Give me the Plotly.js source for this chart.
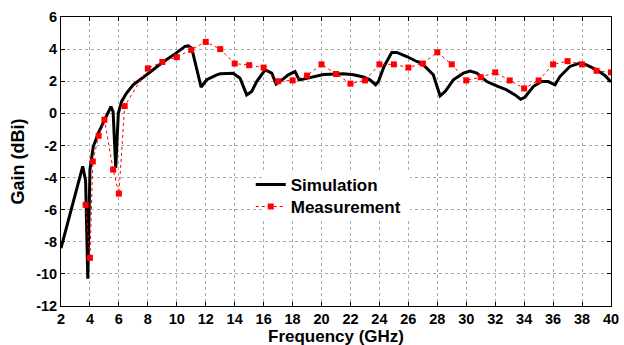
<!DOCTYPE html>
<html>
<head>
<meta charset="utf-8">
<script src="https://cdn.plot.ly/plotly-3.0.1.min.js"></script>
<style>html,body{margin:0;padding:0;background:#fff;}#chart{width:624px;height:345px;}</style>
</head>
<body>
<div id="chart"></div>
<script>
// Simulation curve (frequency GHz, gain dBi)
const simFreq = [2, 3.5, 3.7, 3.85, 4.0, 4.23, 4.57, 4.92, 5.15, 5.45, 5.6, 5.78, 5.96, 6.19, 6.53, 6.99, 7.92, 8.96, 9.95, 10.57, 10.8, 11.03, 11.68, 12.07, 12.76, 13.0, 13.9, 14.37, 14.83, 15.18, 15.52, 16.1, 16.56, 16.86, 17.13, 17.7, 18.17, 18.45, 18.75, 19.44, 20.13, 21.51, 22.2, 22.89, 23.35, 23.74, 23.93, 24.32, 24.85, 25.2, 25.89, 26.58, 26.92, 27.72, 28.19, 28.54, 29.11, 29.8, 30.27, 30.73, 31.42, 32.1, 32.79, 33.37, 33.76, 34.05, 34.63, 35.2, 35.66, 36.13, 36.47, 37.16, 37.85, 38.31, 39.0, 39.6, 40];
const simGain = [-8.4, -3.3, -4.2, -10.3, -3.5, -2.07, -1.24, -0.61, -0.1, 0.42, 0.1, -3.4, 0.0, 0.74, 1.26, 1.78, 2.4, 3.13, 3.75, 4.17, 4.2, 4.06, 1.63, 2.09, 2.4, 2.46, 2.5, 2.19, 1.15, 1.36, 1.98, 2.71, 2.5, 1.82, 1.98, 2.4, 2.6, 2.09, 2.13, 2.29, 2.42, 2.46, 2.4, 2.26, 2.09, 1.78, 1.98, 2.92, 3.79, 3.79, 3.54, 3.23, 3.13, 2.4, 1.09, 1.36, 2.09, 2.5, 2.63, 2.5, 1.98, 1.71, 1.46, 1.15, 0.88, 1.0, 1.67, 1.98, 1.98, 1.78, 2.29, 2.92, 3.13, 3.02, 2.71, 2.34, 1.95];
// Measurement points
const measFreq = [3.7, 4.0, 4.2, 4.6, 5.0, 5.6, 6.0, 6.4, 8, 9, 10, 11, 12, 13, 14, 15, 16, 17, 18, 19, 20, 21, 22, 23, 24, 25, 26, 27, 28, 29, 30, 31, 32, 33, 34, 35, 36, 37, 38, 39, 40];
const measGain = [-5.7, -9.0, -3.0, -1.4, -0.4, -3.5, -5.0, 0.45, 2.8, 3.2, 3.5, 3.95, 4.45, 4.0, 3.1, 3.0, 2.85, 2.0, 2.05, 2.35, 3.05, 2.45, 1.85, 2.05, 3.05, 3.05, 2.85, 3.1, 3.8, 3.05, 2.05, 2.25, 2.55, 2.05, 1.55, 2.05, 3.05, 3.25, 3.05, 2.65, 2.55];
const xTicks = [2,4,6,8,10,12,14,16,18,20,22,24,26,28,30,32,34,36,38,40];
const yTicks = [-12,-10,-8,-6,-4,-2,0,2,4,6];
const xTitle = 'Frequency (GHz)';
const yTitle = 'Gain (dBi)';

const fam = '"Liberation Sans", Arial, sans-serif';
const data = [
  {x: simFreq, y: simGain, type: 'scatter', mode: 'lines', name: 'Simulation', legend: 'legend',
   line: {color: '#000', width: 3}},
  {x: measFreq, y: measGain, type: 'scatter', mode: 'lines+markers', name: 'Measurement', legend: 'legend2',
   line: {color: '#ff0000', width: 1, dash: 'dot'},
   marker: {color: '#ff0000', symbol: 'square', size: 6}}
];
const axisCommon = {
  showline: true, linecolor: '#000', linewidth: 1, mirror: 'ticks',
  ticks: 'inside', ticklen: 4, tickcolor: '#000',
  showgrid: true, gridcolor: '#aaa', griddash: 'dot', gridwidth: 1,
  zeroline: false, tickfont: {family: fam, size: 14.5, color: '#000', weight: 'bold'}
};
const legendCommon = {xanchor: 'left', yanchor: 'top', bgcolor: 'rgba(0,0,0,0)', borderwidth: 0,
  itemwidth: 30, font: {family: fam, size: 17, color: '#000', weight: 'bold'}};
const layout = {
  width: 624, height: 345,
  margin: {l: 61, r: 13, t: 17, b: 39},
  paper_bgcolor: '#fff', plot_bgcolor: '#fff',
  font: {family: fam, size: 14, color: '#000'},
  showlegend: true,
  xaxis: Object.assign({}, axisCommon, {range: [2, 40], tickvals: xTicks, ticktext: xTicks.map(String)}),
  yaxis: Object.assign({}, axisCommon, {range: [-12, 6], tickvals: yTicks, ticktext: yTicks.map(String),
    title: {text: '<b>' + yTitle + '</b>', font: {family: fam, size: 18, color: '#000'}, standoff: 6}}),
  annotations: [{text: '<b>' + xTitle + '</b>', xref: 'paper', yref: 'paper', x: 0.5, y: -0.107,
    xanchor: 'center', yanchor: 'middle', showarrow: false, font: {family: fam, size: 17, color: '#000'}}],
  legend: Object.assign({}, legendCommon, {x: 0.345, y: 0.481}),
  legend2: Object.assign({}, legendCommon, {x: 0.345, y: 0.405}),
  // white legend box (no border) hiding the grid behind the legend
  shapes: [{type: 'rect', xref: 'paper', yref: 'paper', layer: 'above',
    x0: 0.365, x1: 0.635, y0: 0.30, y1: 0.465, fillcolor: '#fff', line: {width: 0}}]
};
Plotly.newPlot('chart', data, layout, {displayModeBar: false, staticPlot: true});
</script>
</body>
</html>
